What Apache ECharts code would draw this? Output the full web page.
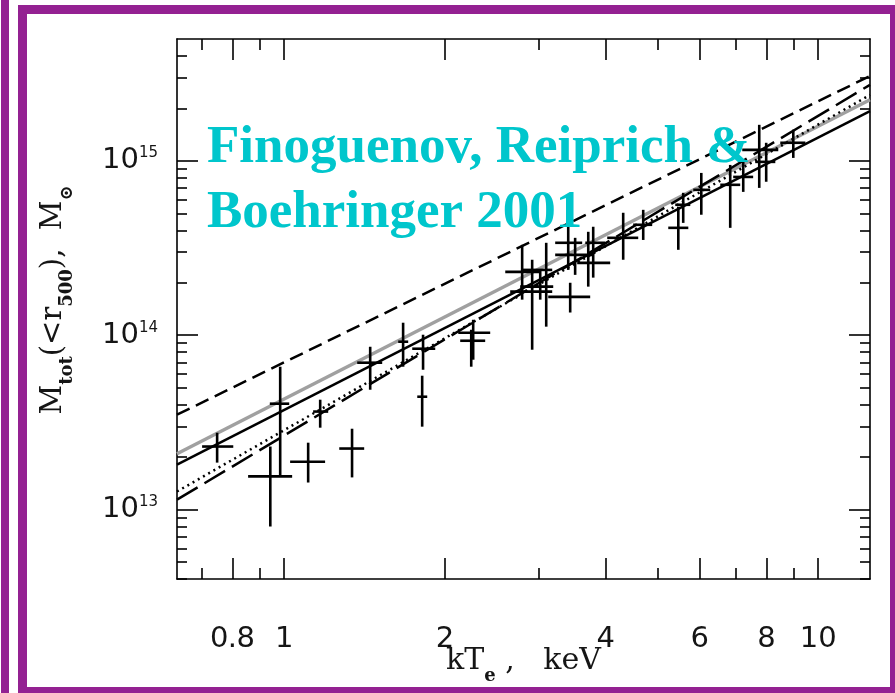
<!DOCTYPE html>
<html>
<head>
<meta charset="utf-8">
<script src="https://cdn.jsdelivr.net/npm/echarts@6/dist/echarts.min.js"></script>
<style>
html,body{margin:0;padding:0;background:#fff;}
#chart{width:895px;height:693px;}
</style>
</head>
<body>
<div id="chart"></div>
<script>
// ---- data ----
var kT    = [0.749,0.942,0.983,1.109,1.34,1.168,1.449,1.67,1.82,1.813,2.259,2.24,2.79,2.913,3.095,3.403,3.506,3.432,3.71,3.79,3.016,4.313,4.702,5.47,5.587,6.04,6.842,7.237,7.754,7.99,8.98];
var kTlo  = [0.702,0.856,0.94,1.026,1.268,1.133,1.37,1.635,1.737,1.775,2.118,2.136,2.594,2.65,2.80,3.217,3.217,3.122,3.537,3.663,2.766,4.026,4.503,5.238,5.398,5.834,6.555,6.93,7.206,7.62,8.49];
var kThi  = [0.803,1.035,1.022,1.193,1.412,1.209,1.526,1.707,1.918,1.853,2.431,2.379,3.016,3.176,3.176,3.614,3.774,3.741,4.078,3.99,3.19,4.602,4.888,5.711,5.76,6.278,7.143,7.553,8.417,8.31,9.46];
var Mtot  = [2.30e13,1.55e13,4.05e13,1.88e13,2.24e13,3.65e13,6.96e13,9.18e13,8.37e13,4.44e13,1.033e14,9.3e13,2.31e14,1.78e14,2.37e14,3.39e14,2.89e14,1.66e14,2.60e14,3.39e14,1.90e14,3.62e14,4.30e14,4.13e14,5.60e14,6.82e14,7.29e14,8.09e14,1.156e15,9.87e14,1.27e15];
var Mlo   = [1.86e13,8.0e12,1.58e13,1.43e13,1.53e13,2.95e13,4.87e13,6.6e13,6.34e13,2.99e13,7.24e13,6.6e13,1.60e14,8.26e13,1.12e14,2.37e14,2.22e14,1.35e14,1.90e14,2.14e14,1.60e14,2.71e14,3.52e14,3.09e14,4.41e14,4.91e14,4.13e14,6.64e14,7.0e14,7.59e14,1.04e15];
var Mhi   = [2.76e13,2.30e13,6.6e13,2.42e13,2.91e13,4.27e13,8.59e13,1.18e14,1.007e14,5.86e13,1.227e14,1.075e14,3.30e14,2.71e14,3.39e14,4.47e14,3.62e14,2.0e14,3.92e14,4.19e14,2.37e14,5.04e14,5.24e14,5.45e14,6.56e14,8.53e14,9.48e14,1.01e15,1.61e15,1.27e15,1.51e15];

// relation lines: end points [kT, M]
var lineDashed   = [[0.63,3.50e13],[12.5,3.07e15]];
var lineGray     = [[0.63,2.09e13],[12.5,2.24e15]];
var lineSolid    = [[0.63,1.81e13],[12.5,1.93e15]];
var lineDotted   = [[0.63,1.27e13],[12.5,2.39e15]];
var lineLongDash = [[0.63,1.14e13],[12.5,2.73e15]];

// axis ticks
var xMajorTicks = [0.8,1,2,4,6,8,10];
var xMinorTicks = [0.7,0.9,3,5,7,9];
var yMajorTicks = [1e13,1e14,1e15];
var yMinorTicks = [4e12,5e12,6e12,7e12,8e12,9e12,2e13,3e13,4e13,5e13,6e13,7e13,8e13,9e13,2e14,3e14,4e14,5e14,6e14,7e14,8e14,9e14,2e15,3e15,4e15];

var xMin = 0.63, xMax = 12.5, yMin = 4e12, yMax = 5e15;

// ---- chart ----
var chart = echarts.init(document.getElementById('chart'), null, {renderer:'canvas'});
var points = kT.map(function(v,i){ return [v, Mtot[i], kTlo[i], kThi[i], Mlo[i], Mhi[i]]; });

var gridRect = {left:177, top:39, width:693, height:540};
var black = '#000';
var txt = '#151515';

function xAxisDef(gridIndex, pos, ticks, len, showLabel, showName) {
  var a = {
    type:'log', logBase:10, gridIndex:gridIndex, position:pos, min:xMin, max:xMax,
    axisLine:{show:gridIndex===0, lineStyle:{color:black, width:1.6}},
    axisTick:{show:true, inside:true, length:len, customValues:ticks, lineStyle:{color:black, width:1.6}},
    axisLabel:{show:showLabel, customValues:ticks, margin:45,
      formatter:function(v){
        var s = String(Math.round(v*10)/10);
        return s.split('').map(function(c){ return c === '.' ? '{p|.}' : '{d|' + c + '}'; }).join('');
      },
      rich:{
        d:{fontFamily:'DejaVu Sans', fontSize:29, color:txt, lineHeight:30},
        p:{fontFamily:'DejaVu Sans', fontSize:29, color:txt, lineHeight:30, width:8}
      }},
    splitLine:{show:false}, minorTick:{show:false}
  };
  if (showName) {
    a.name = '{n|kT}{s|e}{n| ,   keV}';
    a.nameLocation = 'middle';
    a.nameGap = 66;
    a.nameMoveOverlap = false;
    a.nameTextStyle = {rich:{
      n:{fontFamily:'DejaVu Serif', fontSize:30, color:txt, lineHeight:32},
      s:{fontFamily:'DejaVu Serif', fontSize:18, fontWeight:'bold', color:txt, verticalAlign:'bottom', lineHeight:20, padding:[0,0,-8,0]}
    }};
  }
  return a;
}
function yAxisDef(gridIndex, pos, ticks, len, showLabel, showName) {
  var a = {
    type:'log', logBase:10, gridIndex:gridIndex, position:pos, min:yMin, max:yMax,
    axisLine:{show:gridIndex===0, lineStyle:{color:black, width:1.6}},
    axisTick:{show:true, inside:true, length:len, customValues:ticks, lineStyle:{color:black, width:1.6}},
    axisLabel:{show:showLabel, customValues:ticks, margin:19,
      formatter:function(v){ return '{b|10}{e|' + Math.round(Math.log10(v)) + '}'; },
      rich:{
        b:{fontFamily:'DejaVu Sans', fontSize:29, color:txt, lineHeight:30},
        e:{fontFamily:'DejaVu Sans', fontSize:15, color:txt, verticalAlign:'top', lineHeight:15}
      }},
    splitLine:{show:false}, minorTick:{show:false}
  };
  if (showName) {
    a.name = '{p| }{n|M}{s|tot}{n|(<r}{s|500}{n|),  M}{s|\u2299}';
    a.nameLocation = 'middle';
    a.nameRotate = 90;
    a.nameGap = 108;
    a.nameMoveOverlap = false;
    a.nameTextStyle = {rich:{
      n:{fontFamily:'DejaVu Serif', fontSize:29, color:txt, lineHeight:32},
      s:{fontFamily:'DejaVu Serif', fontSize:18, fontWeight:'bold', color:txt, verticalAlign:'bottom', lineHeight:20, padding:[0,0,-7,0]},
      p:{fontSize:18, width:18}
    }};
  }
  return a;
}

function lineSeries(data, style) {
  return {type:'line', xAxisIndex:0, yAxisIndex:0, data:data, showSymbol:false, symbol:'none',
    lineStyle:style, clip:true, silent:true, animation:false, z:2};
}

var option = {
  animation:false,
  backgroundColor:'#fff',
  grid:[
    Object.assign({show:false, containLabel:false, outerBoundsMode:'none'}, gridRect),
    Object.assign({show:false, containLabel:false, outerBoundsMode:'none'}, gridRect)
  ],
  xAxis:[
    xAxisDef(0,'bottom',xMajorTicks,21,true,true),
    xAxisDef(0,'top',xMajorTicks,21,false,false),
    xAxisDef(1,'bottom',xMinorTicks,11,false,false),
    xAxisDef(1,'top',xMinorTicks,11,false,false)
  ],
  yAxis:[
    yAxisDef(0,'left',yMajorTicks,21,true,true),
    yAxisDef(0,'right',yMajorTicks,21,false,false),
    yAxisDef(1,'left',yMinorTicks,10,false,false),
    yAxisDef(1,'right',yMinorTicks,10,false,false)
  ],
  graphic:[
    {type:'rect', shape:{x:1,y:0,width:8,height:693}, style:{fill:'#942192'}, silent:true},
    {type:'rect', shape:{x:18,y:5,width:877,height:9}, style:{fill:'#942192'}, silent:true},
    {type:'rect', shape:{x:18,y:5,width:9,height:688}, style:{fill:'#942192'}, silent:true},
    {type:'rect', shape:{x:890,y:5,width:5,height:688}, style:{fill:'#942192'}, silent:true},
    {type:'rect', shape:{x:18,y:687,width:877,height:6}, style:{fill:'#942192'}, silent:true},
    {type:'text', x:207, y:122, style:{text:'Finoguenov, Reiprich &', fill:'#00C6CC', font:'bold 53px "Liberation Serif"', textBaseline:'alphabetic'}, z:10},
    {type:'text', x:207, y:187, style:{text:'Boehringer 2001', fill:'#00C6CC', font:'bold 53px "Liberation Serif"', textBaseline:'alphabetic'}, z:10}
  ],
  series:[
    lineSeries(lineGray,     {color:'#a0a0a0', width:3.5, type:'solid'}),
    lineSeries(lineDashed,   {color:black, width:2.5, type:[14,7]}),
    lineSeries(lineSolid,    {color:black, width:2.5, type:'solid'}),
    lineSeries(lineDotted,   {color:black, width:2.5, type:[2,4]}),
    lineSeries(lineLongDash, {color:black, width:2.5, type:[24,8]}),
    {
      type:'custom', xAxisIndex:0, yAxisIndex:0, data:points, clip:true, z:3,
      encode:{x:0, y:1},
      renderItem:function(params, api){
        var xl = api.coord([api.value(2), api.value(1)]);
        var xh = api.coord([api.value(3), api.value(1)]);
        var yl = api.coord([api.value(0), api.value(4)]);
        var yh = api.coord([api.value(0), api.value(5)]);
        return {type:'group', children:[
          {type:'line', shape:{x1:xl[0],y1:xl[1],x2:xh[0],y2:xh[1]}, style:{stroke:black, lineWidth:2.6}},
          {type:'line', shape:{x1:yl[0],y1:yl[1],x2:yh[0],y2:yh[1]}, style:{stroke:black, lineWidth:2.6}}
        ]};
      }
    }
  ]
};
chart.setOption(option);
</script>
</body>
</html>
